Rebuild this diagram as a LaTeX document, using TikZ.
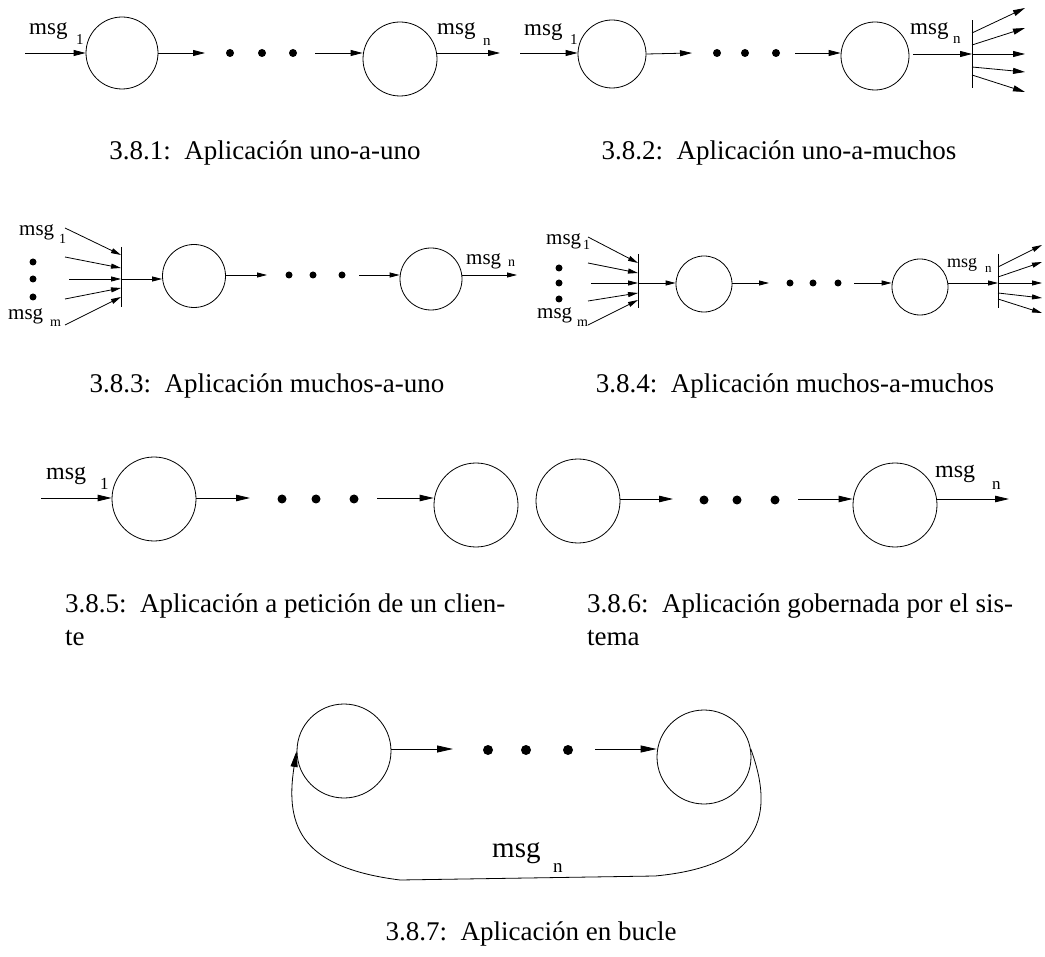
\documentclass[tikz,border=0pt]{standalone}
\usepackage{fontspec}
\setmainfont{Liberation Serif}
\usetikzlibrary{arrows.meta}
\newcommand\fsz[1]{\fontsize{#1}{#1}\selectfont}

\tikzset{
  proc/.style={circle, draw, line width=0.8pt, inner sep=0pt, minimum size=#1},
  blob/.style={circle, fill=black, inner sep=0pt, minimum size=#1},
  lbl/.style={anchor=base west, inner sep=0pt},
  captxt/.style={anchor=base, inner sep=0pt, font=\fsz{27}},
  captxtl/.style={anchor=base west, inner sep=0pt, font=\fsz{27}},
  splitbar/.style={inner sep=0pt, minimum width=0pt, minimum height=#1},
  wire/.style={line width=0.8pt},
  arrA/.style={wire, -{Triangle[length=12pt,width=6pt]}},
  arrB/.style={wire, -{Triangle[length=10pt,width=5pt]}},
  arrC/.style={wire, -{Triangle[length=14pt,width=6.5pt]}},
  arrD/.style={wire, -{Triangle[length=16pt,width=7pt]}},
}

\begin{document}
\begin{tikzpicture}[x=1pt,y=-1pt]
\useasboundingbox (0,0) rectangle (1045,957);

% ---------- 3.8.1 one-to-one ----------
\node[proc=72pt] (a1) at (122,53) {};
\node[proc=74pt] (a2) at (400,59) {};
\node[blob=8pt] (ad1) at (230,53) {};
\node[blob=8pt] (ad2) at (262,53) {};
\node[blob=8pt] (ad3) at (293,53) {};
\coordinate (ain) at (25,53);
\coordinate (aoe) at (205,53);
\coordinate (ais) at (315,53);
\coordinate (aout) at (500,53);
\draw[arrA] (ain) -- (ain -| a1.west);
\draw[arrA] (a1.east) -- (aoe);
\draw[arrA] (ais) -- (ais -| a2.west);
\draw[arrA] (aout -| a2.east) -- (aout);
\node[lbl, font=\fsz{23}] (am) at (29,35) {msg};
\node[lbl, font=\fsz{15}] (am1) at (76,45) {1};
\node[lbl, font=\fsz{23}] (an) at (437,35) {msg};
\node[lbl, font=\fsz{15}] (an1) at (483,46) {n};
\node[captxt] (capA) at (265,160) {3.8.1:\ \ Aplicación uno-a-uno};

% ---------- 3.8.2 one-to-many ----------
\node[proc=68pt] (b1) at (612,54) {};
\node[proc=68pt] (b2) at (875,56) {};
\node[blob=8pt] (bd1) at (717,53) {};
\node[blob=8pt] (bd2) at (745,53) {};
\node[blob=8pt] (bd3) at (776,53) {};
\node[splitbar=67pt] (bbar) at (972,54) {};
\draw[wire] (bbar.north) -- (bbar.south);
\coordinate (bin) at (520,53);
\coordinate (boe) at (692,53);
\coordinate (bis) at (795,53);
\coordinate (bto) at (913,54);
\draw[arrA] (bin) -- (bin -| b1.west);
\draw[arrA] (b1.east) -- (boe);
\draw[arrA] (bis) -- (bis -| b2.west);
\draw[arrA] (bto) -- (bbar.center);
\foreach \i/\ys/\ye in {1/33/8, 2/45/28, 3/54/54, 4/67/72, 5/75/92} {
  \coordinate (bf\i s) at (972,\ys);
  \coordinate (bf\i e) at (1025,\ye);
  \draw[arrA] (bf\i s) -- (bf\i e);
}
\node[lbl, font=\fsz{23}] (bm) at (524,36) {msg};
\node[lbl, font=\fsz{15}] (bm1) at (570,45) {1};
\node[lbl, font=\fsz{23}] (bn) at (910,35) {msg};
\node[lbl, font=\fsz{15}] (bn1) at (953,44) {n};
\node[captxt] (capB) at (779,160) {3.8.2:\ \ Aplicación uno-a-muchos};

% ---------- 3.8.3 many-to-one ----------
\node[splitbar=60pt] (cbar) at (121,277) {};
\draw[wire] (cbar.north) -- (cbar.south);
\foreach \i/\xs/\ys/\ye in {1/65/228/255, 2/65/257/268, 3/69/279/279, 4/65/299/288, 5/65/325/297} {
  \coordinate (cf\i s) at (\xs,\ys);
  \coordinate (cf\i e) at (121,\ye);
  \draw[arrB] (cf\i s) -- (cf\i e);
}
\node[blob=7pt] (cv1) at (33,262) {};
\node[blob=7pt] (cv2) at (33,279) {};
\node[blob=7pt] (cv3) at (33,297) {};
\node[proc=63pt] (c1) at (194,276) {};
\node[proc=62pt] (c2) at (431,279) {};
\node[blob=7pt] (cd1) at (289,275) {};
\node[blob=7pt] (cd2) at (313,275) {};
\node[blob=7pt] (cd3) at (342,275) {};
\coordinate (cin) at (121,279);
\coordinate (coe) at (267,275);
\coordinate (cis) at (359,275);
\coordinate (cout) at (517,275);
\draw[arrB] (cin) -- (cin -| c1.west);
\draw[arrB] (coe -| c1.east) -- (coe);
\draw[arrB] (cis) -- (cis -| c2.west);
\draw[arrB] (cout -| c2.east) -- (cout);
\node[lbl, font=\fsz{21}] (cm) at (19,236) {msg};
\node[lbl, font=\fsz{14}] (cm1) at (59,244) {1};
\node[lbl, font=\fsz{21}] (cmm) at (8,320) {msg};
\node[lbl, font=\fsz{14}] (cmm1) at (50,327) {m};
\node[lbl, font=\fsz{21}] (cn) at (466,265) {msg};
\node[lbl, font=\fsz{14}] (cn1) at (508,267) {n};
\node[captxt] (capC) at (267,393) {3.8.3:\ \ Aplicación muchos-a-uno};

% ---------- 3.8.4 many-to-many ----------
\node[splitbar=54pt] (dbar) at (638,281) {};
\draw[wire] (dbar.north) -- (dbar.south);
\foreach \i/\xs/\ys/\ye in {1/588/237/263, 2/588/263/273, 3/591/283/283, 4/588/301/293, 5/588/325/300} {
  \coordinate (df\i s) at (\xs,\ys);
  \coordinate (df\i e) at (638,\ye);
  \draw[arrB] (df\i s) -- (df\i e);
}
\node[blob=7pt] (dv1) at (559,268) {};
\node[blob=7pt] (dv2) at (559,283) {};
\node[blob=7pt] (dv3) at (559,299) {};
\node[proc=56pt] (d1) at (704,284) {};
\node[proc=56pt] (d2) at (920,287) {};
\node[blob=7pt] (dd1) at (790,283) {};
\node[blob=7pt] (dd2) at (813,283) {};
\node[blob=7pt] (dd3) at (838,283) {};
\node[splitbar=54pt] (ebar) at (998,281) {};
\draw[wire] (ebar.north) -- (ebar.south);
\coordinate (din) at (638,283);
\coordinate (doe) at (769,283);
\coordinate (dis) at (854,283);
\coordinate (dto) at (998,283);
\draw[arrB] (din) -- (din -| d1.west);
\draw[arrB] (doe -| d1.east) -- (doe);
\draw[arrB] (dis) -- (dis -| d2.west);
\draw[arrB] (dto -| d2.east) -- (dto);
\foreach \i/\ys/\ye in {1/267/245, 2/277/262, 3/283/283, 4/293/298, 5/299/313} {
  \coordinate (ef\i s) at (998,\ys);
  \coordinate (ef\i e) at (1042,\ye);
  \draw[arrB] (ef\i s) -- (ef\i e);
}
\node[lbl, font=\fsz{21}] (dm) at (546,245) {msg};
\node[lbl, font=\fsz{14}] (dm1) at (583,250) {1};
\node[lbl, font=\fsz{21}] (dmm) at (537,319) {msg};
\node[lbl, font=\fsz{14}] (dmm1) at (577,327) {m};
\node[lbl, font=\fsz{18}] (dn) at (947,268) {msg};
\node[lbl, font=\fsz{13}] (dn1) at (985,273) {n};
\node[captxt] (capD) at (795,393) {3.8.4:\ \ Aplicación muchos-a-muchos};

% ---------- 3.8.5 client request ----------
\node[proc=84pt] (f1) at (154,499) {};
\node[proc=84pt] (f2) at (476,505) {};
\node[blob=9pt] (fd1) at (282,499) {};
\node[blob=9pt] (fd2) at (316,499) {};
\node[blob=9pt] (fd3) at (354,499) {};
\coordinate (fin) at (41,498);
\coordinate (foe) at (250,498);
\coordinate (fis) at (377,498);
\draw[arrC] (fin) -- (fin -| f1.west);
\draw[arrC] (foe -| f1.east) -- (foe);
\draw[arrC] (fis) -- (fis -| f2.west);
\node[lbl, font=\fsz{24}] (fm) at (46,480) {msg};
\node[lbl, font=\fsz{17}] (fm1) at (100,490) {1};
\node[captxtl] (capE1) at (65,612) {3.8.5:\ \ Aplicación a petición de un clien-};
\node[captxtl] (capE2) at (65,645) {te};

% ---------- 3.8.6 system driven ----------
\node[proc=84pt] (g1) at (578,501) {};
\node[proc=84pt] (g2) at (895,505) {};
\node[blob=9pt] (gd1) at (704,500) {};
\node[blob=9pt] (gd2) at (737,500) {};
\node[blob=9pt] (gd3) at (775,500) {};
\coordinate (goe) at (673,499);
\coordinate (gis) at (798,499);
\coordinate (gout) at (1009,499);
\draw[arrC] (goe -| g1.east) -- (goe);
\draw[arrC] (gis) -- (gis -| g2.west);
\draw[arrC] (gout -| g2.east) -- (gout);
\node[lbl, font=\fsz{24}] (gn) at (935,478) {msg};
\node[lbl, font=\fsz{17}] (gn1) at (992,490) {n};
\node[captxtl] (capF1) at (587,612) {3.8.6:\ \ Aplicación gobernada por el sis-};
\node[captxtl] (capF2) at (587,645) {tema};

% ---------- 3.8.7 loop ----------
\node[proc=94pt] (h1) at (344,751) {};
\node[proc=94pt] (h2) at (704,757) {};
\node[blob=10pt] (hd1) at (488,750) {};
\node[blob=10pt] (hd2) at (526,750) {};
\node[blob=10pt] (hd3) at (568,750) {};
\coordinate (hoe) at (453,749);
\coordinate (his) at (595,749);
\draw[arrD] (hoe -| h1.east) -- (hoe);
\draw[arrD] (his) -- (his -| h2.west);
\draw[arrD] (h2.10) .. controls (775,815) and (762,866) .. (655,876)
  -- (400,880) .. controls (305,868) and (284,830) .. (h1.west);
\node[lbl, font=\fsz{29}] (hn) at (492,857) {msg};
\node[lbl, font=\fsz{19}] (hn1) at (553,872) {n};
\node[captxt] (capG) at (531,940) {3.8.7:\ \ Aplicación en bucle};

\end{tikzpicture}
\end{document}
